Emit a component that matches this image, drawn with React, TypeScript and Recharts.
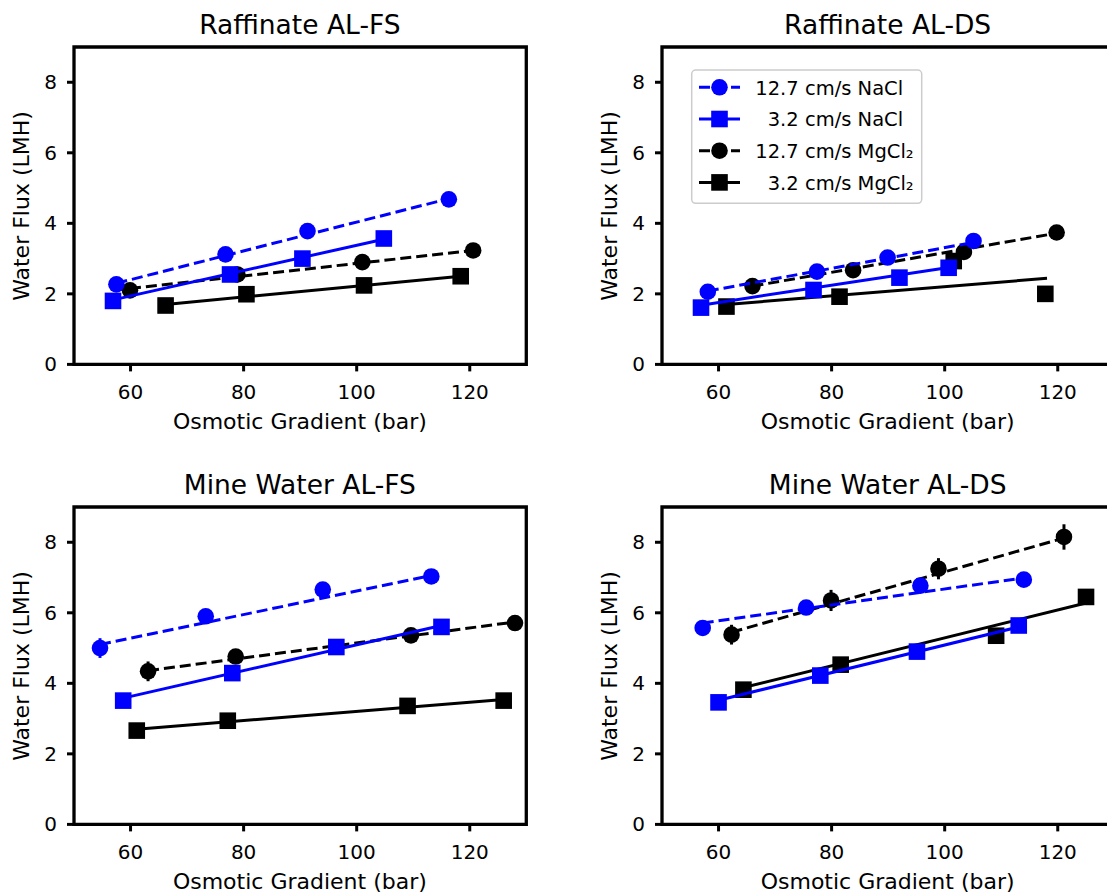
import React from "react";
import { ComposedChart, Scatter, XAxis, YAxis, ReferenceArea, ErrorBar } from "recharts";

type Pair = [number, number];

const FONT = "DejaVu Sans";
const BLUE = "#0000ff";
const BLACK = "#000000";

const xTicks = [60, 80, 100, 120];
const yTicks = [0, 2, 4, 6, 8];

const legendLabels = ["12.7 cm/s NaCl", "\u20073.2 cm/s NaCl", "12.7 cm/s MgCl\u2082", "\u20073.2 cm/s MgCl\u2082"];

// Raffinate AL-FS
const rfsNa127: Pair[] = [[57.5, 2.27], [76.8, 3.12], [91.3, 3.78], [116.3, 4.68]];
const rfsNa32: Pair[] = [[56.9, 1.8], [77.6, 2.55], [90.4, 3.0], [104.8, 3.57]];
const rfsMg127: Pair[] = [[59.9, 2.1], [78.9, 2.55], [101.0, 2.9], [120.6, 3.23]];
const rfsMg32: Pair[] = [[66.2, 1.67], [80.5, 1.99], [101.3, 2.24], [118.4, 2.5]];
const rfsNa127Fit: Pair[] = [[57.5, 2.3], [116.3, 4.7]];
const rfsNa32Fit: Pair[] = [[56.9, 1.83], [104.8, 3.55]];
const rfsMg127Fit: Pair[] = [[59.9, 2.15], [120.6, 3.23]];
const rfsMg32Fit: Pair[] = [[66.2, 1.7], [118.4, 2.5]];

// Raffinate AL-DS
const rdsNa127: Pair[] = [[58.1, 2.06], [77.4, 2.63], [89.9, 3.03], [105.1, 3.5]];
const rdsNa32: Pair[] = [[56.9, 1.61], [76.8, 2.11], [92.0, 2.46], [100.7, 2.74]];
const rdsMg127: Pair[] = [[66.0, 2.22], [83.8, 2.67], [103.4, 3.19], [119.8, 3.74]];
const rdsMg32: Pair[] = [[61.4, 1.64], [81.4, 1.92], [101.6, 2.93], [117.8, 2.0]];
const rdsNa127Fit: Pair[] = [[58.1, 2.08], [105.1, 3.46]];
const rdsNa32Fit: Pair[] = [[56.9, 1.68], [100.7, 2.75]];
const rdsMg127Fit: Pair[] = [[66.0, 2.22], [119.8, 3.72]];
const rdsMg32Fit: Pair[] = [[61.4, 1.7], [118.1, 2.44]];

// Mine Water AL-FS
const mfsNa127: Pair[] = [[54.6, 5.0], [73.3, 5.9], [94.0, 6.66], [113.2, 7.03]];
const mfsNa32: Pair[] = [[58.7, 3.51], [78.0, 4.29], [96.4, 5.03], [115.0, 5.6]];
const mfsMg127: Pair[] = [[63.1, 4.34], [78.6, 4.76], [109.6, 5.36], [128.0, 5.71]];
const mfsMg32: Pair[] = [[61.1, 2.66], [77.2, 2.94], [109.0, 3.36], [126.0, 3.51]];
const mfsNa127Err = [0.28, 0.1, 0.1, 0.1];
const mfsMg127Err = [0.28, 0.15, 0.1, 0.1];
const mfsNa127Fit: Pair[] = [[54.6, 5.1], [113.2, 7.06]];
const mfsNa32Fit: Pair[] = [[58.7, 3.58], [115.0, 5.64]];
const mfsMg127Fit: Pair[] = [[63.1, 4.36], [128.0, 5.74]];
const mfsMg32Fit: Pair[] = [[61.1, 2.7], [126.0, 3.54]];

// Mine Water AL-DS
const mdsNa127: Pair[] = [[57.2, 5.57], [75.5, 6.15], [95.7, 6.77], [114.0, 6.94]];
const mdsNa32: Pair[] = [[60.0, 3.46], [78.0, 4.22], [95.1, 4.9], [113.1, 5.64]];
const mdsMg127: Pair[] = [[62.3, 5.38], [79.9, 6.35], [98.9, 7.25], [121.1, 8.15]];
const mdsMg32: Pair[] = [[64.4, 3.82], [81.6, 4.53], [109.1, 5.35], [125.0, 6.45]];
const mdsNa127Err = [0.15, 0.1, 0.1, 0.1];
const mdsMg127Err = [0.28, 0.3, 0.3, 0.36];
const mdsNa127Fit: Pair[] = [[57.2, 5.71], [114.0, 6.99]];
const mdsNa32Fit: Pair[] = [[60.0, 3.52], [113.1, 5.6]];
const mdsMg127Fit: Pair[] = [[62.3, 5.45], [121.1, 8.12]];
const mdsMg32Fit: Pair[] = [[64.4, 3.88], [125.0, 6.28]];

type Series = { pts: Pair[]; fit: Pair[]; err?: number[]; color: string; marker: "circle" | "square"; dashed: boolean };

const mk = (pts: Pair[], fit: Pair[], color: string, marker: "circle" | "square", dashed: boolean, err?: number[]): Series => ({
  pts, fit, err, color, marker, dashed,
});

// drawing order: black squares, black circles, blue squares, blue circles
const panels = [
  {
    title: "Raffinate AL-FS", left: 73.7, top: 47.3,
    series: [
      mk(rfsMg32, rfsMg32Fit, BLACK, "square", false),
      mk(rfsMg127, rfsMg127Fit, BLACK, "circle", true),
      mk(rfsNa32, rfsNa32Fit, BLUE, "square", false),
      mk(rfsNa127, rfsNa127Fit, BLUE, "circle", true),
    ],
  },
  {
    title: "Raffinate AL-DS", left: 661.5, top: 47.3,
    series: [
      mk(rdsMg32, rdsMg32Fit, BLACK, "square", false),
      mk(rdsMg127, rdsMg127Fit, BLACK, "circle", true),
      mk(rdsNa32, rdsNa32Fit, BLUE, "square", false),
      mk(rdsNa127, rdsNa127Fit, BLUE, "circle", true),
    ],
  },
  {
    title: "Mine Water AL-FS", left: 73.7, top: 507.3,
    series: [
      mk(mfsMg32, mfsMg32Fit, BLACK, "square", false),
      mk(mfsMg127, mfsMg127Fit, BLACK, "circle", true, mfsMg127Err),
      mk(mfsNa32, mfsNa32Fit, BLUE, "square", false),
      mk(mfsNa127, mfsNa127Fit, BLUE, "circle", true, mfsNa127Err),
    ],
  },
  {
    title: "Mine Water AL-DS", left: 661.5, top: 507.3,
    series: [
      mk(mdsMg32, mdsMg32Fit, BLACK, "square", false),
      mk(mdsMg127, mdsMg127Fit, BLACK, "circle", true, mdsMg127Err),
      mk(mdsNa32, mdsNa32Fit, BLUE, "square", false),
      mk(mdsNa127, mdsNa127Fit, BLUE, "circle", true, mdsNa127Err),
    ],
  },
];

const PW = 452.3;
const PH = 317.4;
const R = 8.3;
const DASH = "11 5";

function markerShape(kind: "circle" | "square", color: string) {
  return (p: any) =>
    kind === "circle" ? (
      <circle cx={p.cx} cy={p.cy} r={R} fill={color} />
    ) : (
      <rect x={p.cx - R} y={p.cy - R} width={2 * R} height={2 * R} fill={color} />
    );
}

const tickStyle = { fill: "#000", fontSize: 20, fontFamily: FONT };

function Panel({ left, top, series }: { left: number; top: number; series: Series[] }) {
  // axes get 1px of room so Recharts still draws them
  const m = { top: 40, right: 40, bottom: 79, left: 69 };
  return (
    <div style={{ position: "absolute", left: left - m.left - 1, top: top - m.top }}>
      <ComposedChart width={PW + m.left + m.right + 1} height={PH + m.top + m.bottom + 1} margin={m}>
        <XAxis
          type="number"
          dataKey="x"
          domain={[50, 130]}
          ticks={xTicks}
          interval={0}
          allowDataOverflow
          height={1}
          axisLine={false}
          tickLine={{ stroke: "#000", strokeWidth: 3 }}
          tickSize={7}
          tickMargin={13}
          tick={tickStyle}
        />
        <YAxis
          type="number"
          dataKey="y"
          domain={[0, 9]}
          ticks={yTicks}
          interval={0}
          allowDataOverflow
          width={1}
          axisLine={false}
          tickLine={{ stroke: "#000", strokeWidth: 3 }}
          tickSize={7}
          tickMargin={10}
          tick={tickStyle}
        />
        {series.map((s, i) => [
          <Scatter
            key={`m${i}`}
            data={s.pts.map(([x, y], j) => ({ x, y, e: s.err ? s.err[j] : 0 }))}
            fill={s.color}
            shape={markerShape(s.marker, s.color)}
            isAnimationActive={false}
          >
            {s.err && <ErrorBar dataKey="e" direction="y" width={0} stroke={s.color} strokeWidth={3} />}
          </Scatter>,
          <Scatter
            key={`f${i}`}
            data={s.fit.map(([x, y]) => ({ x, y }))}
            fill={s.color}
            shape={() => <g />}
            line={{ stroke: s.color, strokeWidth: 3, strokeDasharray: s.dashed ? DASH : undefined }}
            isAnimationActive={false}
          />,
        ])}
        <ReferenceArea x1={50} x2={130} y1={0} y2={9} fill="none" fillOpacity={0} stroke="#000" strokeWidth={3.3} ifOverflow="visible" />
      </ComposedChart>
    </div>
  );
}

const legendItems = [
  { color: BLUE, marker: "circle" as const, dashed: true },
  { color: BLUE, marker: "square" as const, dashed: false },
  { color: BLACK, marker: "circle" as const, dashed: true },
  { color: BLACK, marker: "square" as const, dashed: false },
];

function Overlay() {
  return (
    <svg width={1107} height={896} style={{ position: "absolute", left: 0, top: 0, pointerEvents: "none" }} fontFamily={FONT}>
      {panels.map((p, i) => (
        <g key={i}>
          <text x={p.left + PW / 2} y={p.top - 13.3} textAnchor="middle" fontSize={26.5} fill="#000">
            {p.title}
          </text>
          <text x={p.left + PW / 2} y={p.top + PH + 64.3} textAnchor="middle" fontSize={22} fill="#000">
            Osmotic Gradient (bar)
          </text>
          <text transform={`translate(${p.left - 44.7}, ${p.top + PH / 2}) rotate(-90)`} textAnchor="middle" fontSize={22} fill="#000">
            Water Flux (LMH)
          </text>
        </g>
      ))}
      <rect x={691.7} y={70} width={230} height={133.3} rx={4} fill="#fff" fillOpacity={0.8} stroke="#cccccc" strokeWidth={1.5} />
      {legendItems.map((it, i) => {
        const cy = 87.3 + i * 31.7;
        return (
          <g key={i}>
            <line x1={699} x2={740} y1={cy} y2={cy} stroke={it.color} strokeWidth={3} strokeDasharray={it.dashed ? DASH : undefined} />
            {it.marker === "circle" ? (
              <circle cx={719.5} cy={cy} r={R} fill={it.color} />
            ) : (
              <rect x={719.5 - R} y={cy - R} width={2 * R} height={2 * R} fill={it.color} />
            )}
            <text x={755.3} y={cy + 7.3} fontSize={19.5} fill="#000">
              {legendLabels[i]}
            </text>
          </g>
        );
      })}
    </svg>
  );
}

export default function App() {
  return (
    <div style={{ position: "absolute", left: 0, top: 0, width: 1107, height: 896, overflow: "hidden", background: "#fff" }}>
      {panels.map((p, i) => (
        <Panel key={i} left={p.left} top={p.top} series={p.series} />
      ))}
      <Overlay />
    </div>
  );
}
